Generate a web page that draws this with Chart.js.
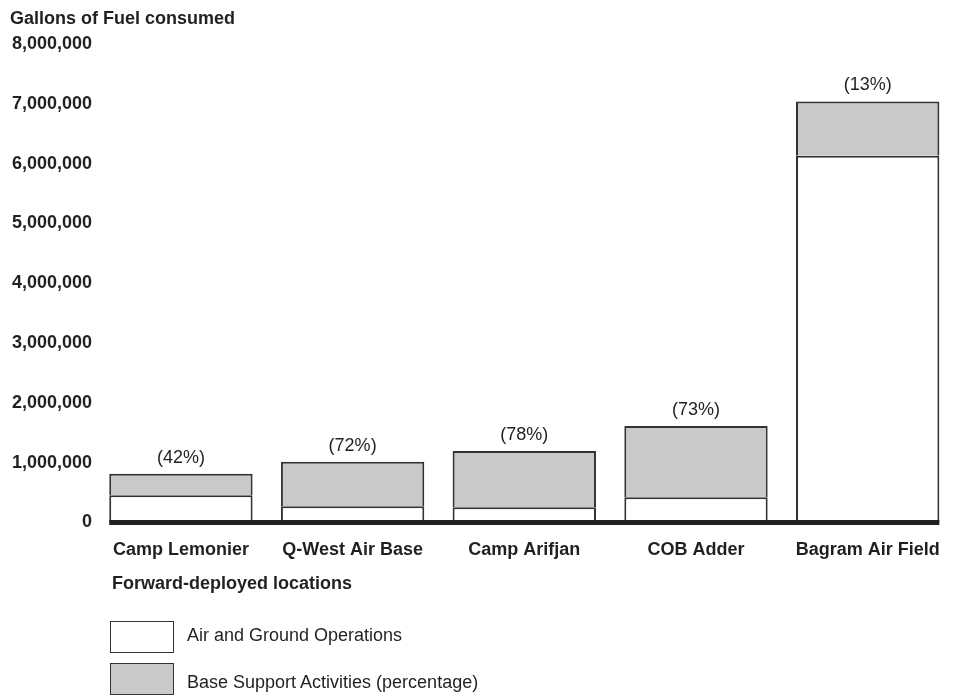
<!DOCTYPE html>
<html>
<head>
<meta charset="utf-8">
<script src="https://cdn.jsdelivr.net/npm/chart.js@4/dist/chart.umd.min.js"></script>
<style>
  body { margin: 0; background: #fff; font-family: "Liberation Sans", Arial, sans-serif; color: #231f20; }
  #wrap { position: relative; width: 957px; height: 698px; overflow: hidden; }
  #fuelChart { position: absolute; left: 0; top: 0; }
  .txt { position: absolute; font-size: 18px; white-space: nowrap; line-height: 20px; }
  .bold { font-weight: bold; }
  .box { position: absolute; width: 62px; height: 30px; border: 1.5px solid #333; }
</style>
</head>
<body>
<div id="wrap">
  <canvas id="fuelChart" width="957" height="698"></canvas>
  <div class="txt bold" style="left:10px; top:8px;">Gallons of Fuel consumed</div>
  <div class="txt bold" style="left:112px; top:573px;">Forward-deployed locations</div>
  <div class="box" style="left:110px; top:621px; background:#fff;"></div>
  <div class="txt" style="left:187px; top:625px;">Air and Ground Operations</div>
  <div class="box" style="left:110px; top:663px; background:#c8c9cb;"></div>
  <div class="txt" style="left:187px; top:672px;">Base Support Activities (percentage)</div>
</div>
<script>
const locations = ["Camp Lemonier", "Q-West Air Base", "Camp Arifjan", "COB Adder", "Bagram Air Field"];
const airGround = [455000, 270000, 255000, 420000, 6130000];
const baseSupport = [360000, 745000, 940000, 1190000, 910000];
const shareLabels = ["(42%)", "(72%)", "(78%)", "(73%)", "(13%)"];
const yTicks = [0, 1000000, 2000000, 3000000, 4000000, 5000000, 6000000, 7000000, 8000000];

const ink = "#231f20";
const fontName = '"Liberation Sans", Arial, sans-serif';

// percent labels above each bar + thick baseline under the bars
const extras = {
  id: "extras",
  afterDatasetsDraw(chart) {
    const ctx = chart.ctx;
    const top = chart.getDatasetMeta(1).data;
    const bottom = chart.getDatasetMeta(0).data;
    const y0 = chart.scales.y.getPixelForValue(0);

    ctx.save();
    ctx.fillStyle = ink;
    ctx.font = "18px " + fontName;
    ctx.textAlign = "center";
    ctx.textBaseline = "middle";
    top.forEach((bar, i) => {
      ctx.fillText(shareLabels[i], bar.x, bar.y - 16);
    });

    const first = bottom[0], last = bottom[bottom.length - 1];
    ctx.strokeStyle = ink;
    ctx.lineWidth = 5;
    ctx.beginPath();
    ctx.moveTo(first.x - first.width / 2, y0);
    ctx.lineTo(last.x + last.width / 2, y0);
    ctx.stroke();
    ctx.restore();
  }
};

new Chart(document.getElementById("fuelChart"), {
  type: "bar",
  data: {
    labels: locations,
    datasets: [
      {
        label: "Air and Ground Operations",
        data: airGround,
        backgroundColor: "#ffffff",
        borderColor: "#333333",
        borderWidth: 2
      },
      {
        label: "Base Support Activities (percentage)",
        data: baseSupport,
        backgroundColor: "#c8c9cb",
        borderColor: "#333333",
        borderWidth: 2
      }
    ]
  },
  options: {
    responsive: false,
    animation: false,
    barPercentage: 0.835,
    categoryPercentage: 1,
    layout: { padding: { top: 44, left: 9, right: 3, bottom: 120 } },
    plugins: {
      legend: { display: false },
      tooltip: { enabled: false }
    },
    scales: {
      x: {
        stacked: true,
        grid: { display: false, drawTicks: false },
        border: { display: false },
        ticks: {
          color: ink,
          padding: 17,
          maxRotation: 0,
          font: { family: fontName, size: 18, weight: "bold" }
        }
      },
      y: {
        stacked: true,
        min: 0,
        max: 8000000,
        afterBuildTicks: axis => { axis.ticks = yTicks.map(v => ({ value: v })); },
        grid: { display: false, drawTicks: false },
        border: { display: false },
        ticks: {
          color: ink,
          padding: 3,
          font: { family: fontName, size: 18, weight: "bold" },
          callback: v => v.toLocaleString("en-US")
        }
      }
    }
  },
  plugins: [extras]
});
</script>
</body>
</html>
